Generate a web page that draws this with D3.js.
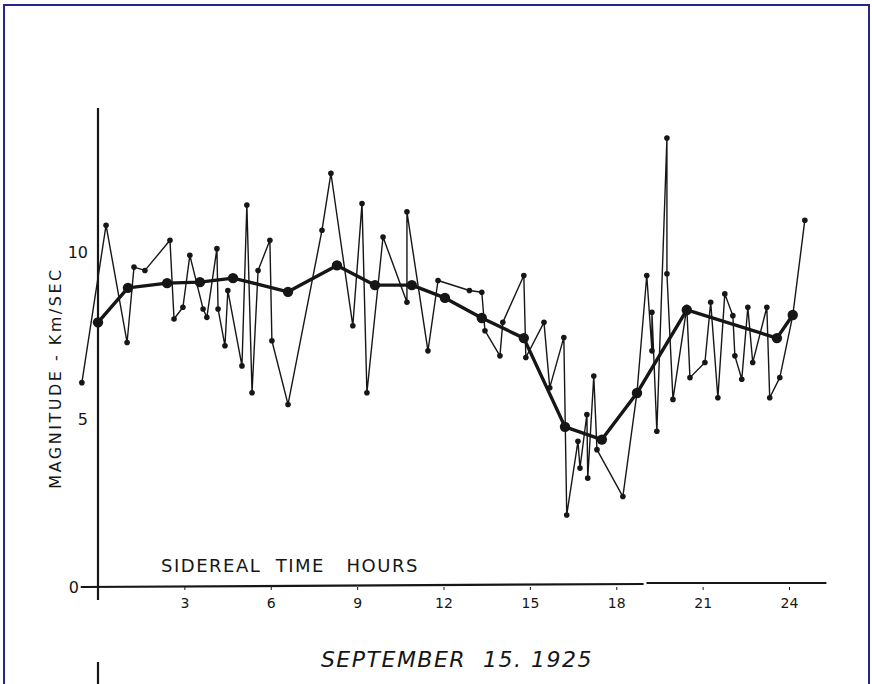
<!DOCTYPE html>
<html>
<head>
<meta charset="utf-8">
<script src="https://cdn.jsdelivr.net/npm/d3@7"></script>
<style>
  body { margin: 0; background: #fff; }
  svg { display: block; }
</style>
</head>
<body>
<div id="chart"></div>
<script>
const width = 872;
const height = 684;

// hourly readings (thin line)
const rawHours = [-0.56, 0.28, 1.01, 1.25, 1.63, 2.5, 2.64, 2.95, 3.19, 3.65, 3.78, 4.13, 4.17, 4.41, 4.51,
  5.0, 5.17, 5.35, 5.56, 5.97, 6.04, 6.6, 7.78, 8.09, 8.85, 9.17, 9.34, 9.9, 10.73, 10.73, 11.46, 11.81,
  12.9, 13.33, 13.44, 13.96, 14.06, 14.79, 14.86, 15.49, 15.69, 16.18, 16.28, 16.67, 16.74, 16.98, 17.01,
  17.22, 17.33, 18.23, 18.72, 19.06, 19.24, 19.24, 19.41, 19.76, 19.76, 19.97, 20.45, 20.56, 21.08, 21.28,
  21.53, 21.77, 22.05, 22.12, 22.36, 22.57, 22.74, 23.23, 23.33, 23.68, 24.13, 24.55];
const rawValues = [6.1, 10.8, 7.3, 9.55, 9.45, 10.35, 8.0, 8.35, 9.9, 8.3, 8.05, 10.1, 8.3, 7.2, 8.85,
  6.6, 11.4, 5.8, 9.45, 10.35, 7.35, 5.45, 10.65, 12.35, 7.8, 11.45, 5.8, 10.45, 8.5, 11.2, 7.05, 9.15,
  8.85, 8.8, 7.65, 6.9, 7.9, 9.3, 6.85, 7.9, 5.95, 7.45, 2.15, 4.35, 3.55, 5.15, 3.25,
  6.3, 4.1, 2.7, 5.8, 9.3, 7.05, 8.2, 4.65, 13.4, 9.35, 5.6, 8.35, 6.25, 6.7, 8.5,
  5.65, 8.75, 8.1, 6.9, 6.2, 8.35, 6.7, 8.35, 5.65, 6.25, 8.1, 10.95];

// smoothed curve (thick line)
const meanHours = [0.0, 1.04, 2.4, 3.54, 4.69, 6.6, 8.3, 9.62, 10.9, 12.05, 13.33, 14.79, 16.22, 17.5, 18.72, 20.45, 23.58, 24.13];
const meanValues = [7.9, 8.93, 9.07, 9.1, 9.22, 8.81, 9.6, 9.01, 9.01, 8.63, 8.03, 7.43, 4.78, 4.4, 5.79, 8.27, 7.43, 8.12];

const xTickValues = [3, 6, 9, 12, 15, 18, 21, 24];
const yTickValues = [0, 5, 10];

const ink = "#161616";
const handFont = "'DejaVu Sans', sans-serif";

const svg = d3.select("#chart").append("svg")
  .attr("width", width)
  .attr("height", height);

// scan frame
svg.append("path")
  .attr("d", `M4,${height} V5 H${width - 3} V${height}`)
  .attr("fill", "none")
  .attr("stroke", "#26268a")
  .attr("stroke-width", 2);

const x = d3.scaleLinear().domain([0, 24]).range([98, 789]);
const y = d3.scaleLinear().domain([0, 10]).range([587, 252]);

// axis lines
svg.append("line")
  .attr("x1", x(0)).attr("x2", x(0))
  .attr("y1", 108).attr("y2", 600)
  .attr("stroke", ink).attr("stroke-width", 2.2);
svg.append("line")
  .attr("x1", x(0)).attr("x2", x(0))
  .attr("y1", 662).attr("y2", height)
  .attr("stroke", ink).attr("stroke-width", 2.2);
svg.append("line")
  .attr("x1", x(-0.6)).attr("x2", x(18.95))
  .attr("y1", y(0)).attr("y2", y(0) - 3)
  .attr("stroke", ink).attr("stroke-width", 2.2);
svg.append("line")
  .attr("x1", x(19.05)).attr("x2", x(25.3))
  .attr("y1", y(0) - 4).attr("y2", y(0) - 4)
  .attr("stroke", ink).attr("stroke-width", 2.2);

const xAxis = svg.append("g")
  .attr("transform", `translate(0,${y(0)})`)
  .call(d3.axisBottom(x).tickValues(xTickValues).tickSize(3).tickPadding(8));
xAxis.select(".domain").remove();
xAxis.selectAll("line").attr("stroke", ink);
xAxis.selectAll("text")
  .attr("fill", ink)
  .style("font-family", handFont)
  .style("font-size", "14px");

const yAxis = svg.append("g")
  .attr("transform", `translate(${x(0)},0)`)
  .call(d3.axisLeft(y).tickValues(yTickValues).tickSize(0).tickPadding(10));
yAxis.select(".domain").remove();
yAxis.selectAll("text")
  .attr("fill", ink)
  .attr("dx", d => d === 0 ? -9 : 0)
  .style("font-family", handFont)
  .style("font-size", "16px");

// thin line of readings
const rawData = rawHours.map((h, i) => ({ h: h, v: rawValues[i] }));
const line = d3.line().x(d => x(d.h)).y(d => y(d.v));

svg.append("path")
  .datum(rawData)
  .attr("d", line)
  .attr("fill", "none")
  .attr("stroke", ink)
  .attr("stroke-width", 1.4)
  .attr("stroke-linejoin", "round");

svg.selectAll(".raw")
  .data(rawData)
  .enter()
  .append("circle")
  .attr("class", "raw")
  .attr("cx", d => x(d.h))
  .attr("cy", d => y(d.v))
  .attr("r", 2.8)
  .attr("fill", ink);

// thick smoothed line
const meanData = meanHours.map((h, i) => ({ h: h, v: meanValues[i] }));
svg.append("path")
  .datum(meanData)
  .attr("d", line)
  .attr("fill", "none")
  .attr("stroke", ink)
  .attr("stroke-width", 3.4)
  .attr("stroke-linejoin", "round");

svg.selectAll(".mean")
  .data(meanData)
  .enter()
  .append("circle")
  .attr("class", "mean")
  .attr("cx", d => x(d.h))
  .attr("cy", d => y(d.v))
  .attr("r", 5.2)
  .attr("fill", ink);

// lettering
svg.append("text")
  .attr("transform", `translate(61,378) rotate(-90)`)
  .attr("text-anchor", "middle")
  .attr("fill", ink)
  .style("font-family", handFont)
  .style("font-size", "16px")
  .style("letter-spacing", "2.5px")
  .text("MAGNITUDE - Km/SEC");

svg.append("text")
  .attr("x", 290)
  .attr("y", 572)
  .attr("text-anchor", "middle")
  .attr("fill", ink)
  .style("white-space", "pre")
  .style("font-family", handFont)
  .style("font-size", "18px")
  .style("letter-spacing", "1.5px")
  .text("SIDEREAL  TIME   HOURS");

svg.append("text")
  .attr("x", 457)
  .attr("y", 667)
  .attr("text-anchor", "middle")
  .attr("fill", ink)
  .style("white-space", "pre")
  .style("font-family", handFont)
  .style("font-size", "22px")
  .style("font-style", "italic")
  .style("letter-spacing", "1.5px")
  .text("SEPTEMBER  15. 1925");
</script>
</body>
</html>
